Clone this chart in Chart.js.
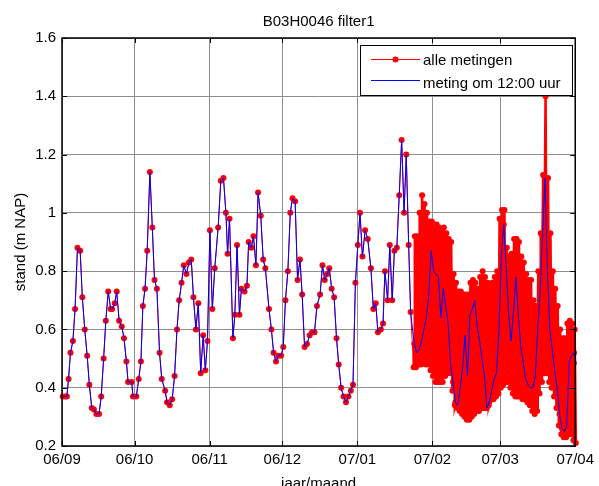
<!DOCTYPE html>
<html>
<head>
<meta charset="utf-8">
<title>B03H0046 filter1</title>
<script src="https://cdn.jsdelivr.net/npm/chart.js@4.4.1/dist/chart.umd.min.js"></script>
<style>
  html, body { margin: 0; padding: 0; background: #fff; }
  canvas { display: block; }
</style>
</head>
<body>
<canvas id="standChart" width="599" height="486"></canvas>
<script>

// dagnummer 0 = 1 september 2006
const xTickDays = [ 0, 30, 61, 91, 122, 153, 181, 212 ];
const xTickLabels = [ '06/09', '06/10', '06/11', '06/12', '07/01', '07/02', '07/03', '07/04' ];
const yTickValues = [ 0.2, 0.4, 0.6, 0.8, 1.0, 1.2, 1.4, 1.6 ];
const yTickLabels = [ '0.2', '0.4', '0.6', '0.8', '1', '1.2', '1.4', '1.6' ];

const titel = 'B03H0046 filter1';
const xTitel = 'jaar/maand';
const yTitel = 'stand (m NAP)';
const legendaTeksten = [ 'alle metingen', 'meting om 12:00 uur' ];

// losse metingen (ongeveer dagelijks) tot de logger erin ging
const handDagen = [
    0.3, 1.4, 2.0, 2.7, 3.5, 4.5, 5.4, 6.4, 7.5, 8.4,
    9.4, 10.4, 11.3, 12.3, 13.2, 14.2, 15.3, 16.2, 17.2, 18.1,
    19.1, 20.1, 20.7, 21.8, 22.6, 23.6, 24.7, 25.6, 26.6, 27.3,
    28.8, 29.3, 30.7, 31.7, 32.6, 33.4, 34.3, 35.2, 36.3, 37.3,
    38.2, 39.2, 40.3, 41.2, 42.6, 43.4, 44.5, 45.5, 46.5, 47.5,
    48.4, 49.4, 50.3, 51.4, 52.4, 53.4, 54.3, 55.3, 56.3, 57.3,
    58.3, 59.2, 60.1, 61.1, 62.1, 63.1, 64.5, 65.6, 66.7, 67.7,
    68.4, 69.2, 70.6, 71.4, 72.3, 73.3, 74.1, 75.4, 76.4, 77.1,
    78.2, 79.1, 80.1, 81.0, 82.1, 83.1, 84.0, 85.5, 86.5, 87.4,
    88.4, 89.3, 90.5, 91.4, 92.3, 93.3, 94.3, 95.2, 96.3, 97.3,
    98.3, 99.2, 100.2, 101.2, 102.3, 103.3, 104.3, 105.3, 106.6, 107.6,
    108.5, 109.5, 110.4, 111.4, 112.4, 113.4, 114.3, 115.3, 116.3, 117.3,
    118.3, 119.3, 120.2, 121.2, 122.2, 123.1, 124.1, 125.2, 126.3, 127.6,
    128.6, 129.6, 130.5, 131.7, 132.6, 133.4, 134.5, 135.4, 136.4, 137.3,
    138.3, 139.3, 140.3, 141.3, 142.2, 143.2, 144.0
];
const handStanden = [
    0.37, 0.37, 0.37, 0.43, 0.52, 0.56, 0.67, 0.88, 0.87, 0.71,
    0.60, 0.51, 0.41, 0.33, 0.325, 0.31, 0.31, 0.37, 0.50, 0.63,
    0.73, 0.67, 0.67, 0.69, 0.73, 0.63, 0.61, 0.57, 0.49, 0.42,
    0.42, 0.37, 0.37, 0.43, 0.49, 0.68, 0.74, 0.87, 1.14, 0.95,
    0.77, 0.74, 0.52, 0.43, 0.39, 0.35, 0.34, 0.36, 0.44, 0.60,
    0.70, 0.76, 0.82, 0.79, 0.83, 0.84, 0.71, 0.60, 0.69, 0.45,
    0.58, 0.46, 0.56, 0.94, 0.67, 0.81, 0.95, 1.11, 1.12, 1.00,
    0.86, 0.98, 0.57, 0.65, 0.89, 0.65, 0.74, 0.73, 0.75, 0.90,
    0.88, 0.92, 0.82, 1.07, 0.99, 0.84, 0.81, 0.67, 0.60, 0.52,
    0.49, 0.51, 0.51, 0.54, 0.70, 0.80, 1.00, 1.05, 1.04, 0.77,
    0.84, 0.72, 0.54, 0.55, 0.58, 0.59, 0.59, 0.68, 0.72, 0.82,
    0.77, 0.79, 0.81, 0.74, 0.71, 0.57, 0.48, 0.40, 0.37, 0.35,
    0.37, 0.39, 0.41, 0.76, 0.89, 1.00, 0.85, 0.94, 0.91, 0.81,
    0.67, 0.69, 0.59, 0.60, 0.62, 0.80, 0.70, 0.89, 0.70, 0.87,
    0.88, 1.06, 1.25, 1.00, 1.20, 0.89, 0.66
];

// loggerperiode: per dag laagste stand, stand om 12:00 en hoogste stand
const loggerStart = 145;
const dagMin = [
    0.47, 0.47, 0.48, 0.48, 0.49, 0.48, 0.48, 0.46, 0.44, 0.42,
    0.42, 0.42, 0.42, 0.44, 0.45, 0.45, 0.39, 0.34, 0.33, 0.32,
    0.31, 0.30, 0.29, 0.29, 0.30, 0.31, 0.32, 0.32, 0.33, 0.33,
    0.33, 0.34, 0.36, 0.36, 0.37, 0.38, 0.40, 0.41, 0.42, 0.42,
    0.40, 0.38, 0.37, 0.37, 0.37, 0.36, 0.36, 0.35, 0.34, 0.32,
    0.31, 0.32, 0.38, 0.42, 0.45, 0.45, 0.42, 0.40, 0.37, 0.33,
    0.27, 0.24, 0.23, 0.23, 0.24, 0.24, 0.22, 0.21
];
const dagMiddag = [
    0.55, 0.52, 0.53, 0.56, 0.60, 0.64, 0.72, 0.87, 0.80, 0.79,
    0.78, 0.64, 0.74, 0.68, 0.62, 0.48, 0.42, 0.35, 0.34, 0.40,
    0.47, 0.58, 0.44, 0.65, 0.67, 0.70, 0.61, 0.56, 0.50, 0.44,
    0.33, 0.35, 0.39, 0.43, 0.45, 0.60, 0.86, 0.96, 0.81, 0.65,
    0.56, 0.66, 0.78, 0.65, 0.54, 0.49, 0.43, 0.41, 0.40, 0.40,
    0.44, 0.60, 0.73, 0.92, 1.12, 0.80, 0.60, 0.53, 0.46, 0.40,
    0.31, 0.26, 0.25, 0.27, 0.49, 0.51, 0.52, 0.48
];
const dagMax = [
    0.92, 0.92, 1.00, 1.06, 1.03, 1.00, 0.97, 0.97, 0.96, 0.96,
    0.95, 0.94, 0.95, 0.93, 0.91, 0.90, 0.79, 0.76, 0.73, 0.73,
    0.72, 0.72, 0.72, 0.76, 0.77, 0.76, 0.74, 0.78, 0.80, 0.78,
    0.76, 0.75, 0.76, 0.78, 0.80, 0.98, 1.01, 1.01, 0.88, 0.85,
    0.86, 0.91, 0.91, 0.90, 0.85, 0.83, 0.79, 0.77, 0.77, 0.70,
    0.68, 0.80, 0.93, 1.13, 1.40, 1.12, 0.93, 0.80, 0.74, 0.68,
    0.60, 0.57, 0.57, 0.62, 0.63, 0.62, 0.60, 0.58
];

const lettertype = '"Liberation Sans", Arial, sans-serif';

function getHandPunten() {

    return handDagen.map( function( dag, i ) {
        return { x: dag, y: handStanden[ i ] };
    } );

}

function getAlleMetingen() {

    let punten = getHandPunten();

    dagMiddag.forEach( function( stand, i ) {
        let dag = loggerStart + i;
        punten.push( { x: dag + 0.25, y: dagMin[ i ] } );
        punten.push( { x: dag + 0.5, y: stand } );
        punten.push( { x: dag + 0.75, y: dagMax[ i ] } );
    } );

    return punten;

}

function getMiddagMetingen() {

    let punten = getHandPunten();

    dagMiddag.forEach( function( stand, i ) {
        punten.push( { x: loggerStart + i + 0.5, y: stand } );
    } );

    return punten;

}

// uurwaarden liggen zo dicht op elkaar dat het een dichte band wordt
function loggerLijndikte( segCtx ) {

    return segCtx.p0.parsed.x >= loggerStart ? 2.6 : 1;

}

// kader met tikjes naar binnen, titels en legenda (matlab-stijl)
const kaderPlugin = {
    id: 'kader',
    afterDatasetsDraw( chart ) {

        const ctx = chart.ctx;
        const a = chart.chartArea;
        const sx = chart.scales.x;
        const sy = chart.scales.y;

        ctx.save();
        ctx.strokeStyle = '#000';
        ctx.lineWidth = 1;
        ctx.beginPath();
        xTickDays.forEach( function( dag ) {
            let px = Math.round( sx.getPixelForValue( dag ) ) + 0.5;
            ctx.moveTo( px, a.bottom );
            ctx.lineTo( px, a.bottom - 5 );
            ctx.moveTo( px, a.top );
            ctx.lineTo( px, a.top + 5 );
        } );
        yTickValues.forEach( function( v ) {
            let py = Math.round( sy.getPixelForValue( v ) ) + 0.5;
            ctx.moveTo( a.left, py );
            ctx.lineTo( a.left + 5, py );
            ctx.moveTo( a.right, py );
            ctx.lineTo( a.right - 5, py );
        } );
        ctx.stroke();

        ctx.lineWidth = 1.5;
        ctx.strokeRect( a.left, a.top, a.right - a.left, a.bottom - a.top );

        ctx.fillStyle = '#000';
        ctx.font = '15px ' + lettertype;
        ctx.textAlign = 'center';
        ctx.textBaseline = 'alphabetic';
        let midden = ( a.left + a.right ) / 2;
        ctx.fillText( titel, midden, 26 );
        ctx.fillText( xTitel, midden, 488 );

        ctx.save();
        ctx.translate( 25, ( a.top + a.bottom ) / 2 );
        ctx.rotate( -Math.PI / 2 );
        ctx.fillText( yTitel, 0, 0 );
        ctx.restore();

        // legenda
        let lx = 360.5, ly = 45.5, lw = 212, lh = 50;
        ctx.fillStyle = '#fff';
        ctx.fillRect( lx, ly, lw, lh );
        ctx.lineWidth = 1;
        ctx.strokeStyle = '#000';
        ctx.strokeRect( lx, ly, lw, lh );

        ctx.strokeStyle = '#ff0000';
        ctx.beginPath();
        ctx.moveTo( 371, 59.5 );
        ctx.lineTo( 420, 59.5 );
        ctx.stroke();
        ctx.fillStyle = '#ff0000';
        ctx.beginPath();
        ctx.arc( 395.5, 59.5, 3, 0, 2 * Math.PI );
        ctx.fill();

        ctx.strokeStyle = '#0000ff';
        ctx.beginPath();
        ctx.moveTo( 371, 80.5 );
        ctx.lineTo( 420, 80.5 );
        ctx.stroke();

        ctx.fillStyle = '#000';
        ctx.textAlign = 'left';
        ctx.fillText( legendaTeksten[ 0 ], 423, 65 );
        ctx.fillText( legendaTeksten[ 1 ], 423, 87.5 );

        ctx.restore();

    }
};

function addStandChart() {

    let ctx = document.getElementById( 'standChart' ).getContext( '2d' );
    let standChart = new Chart( ctx, {
        type: 'line',
        data: {
            datasets: [ {
                label: legendaTeksten[ 0 ],
                data: getAlleMetingen(),
                borderColor: '#ff0000',
                borderWidth: 1,
                segment: { borderWidth: loggerLijndikte },
                pointRadius: 3,
                pointHoverRadius: 3,
                pointBorderWidth: 0,
                pointBackgroundColor: '#ff0000',
                tension: 0,
                clip: false,
                order: 2,
            }, {
                label: legendaTeksten[ 1 ],
                data: getMiddagMetingen(),
                borderColor: '#0000ff',
                borderWidth: 1,
                pointRadius: 0,
                tension: 0,
                clip: false,
                order: 1,
            } ],
        },
        options: {
            responsive: false,
            animation: false,
            events: [],
            layout: {
                padding: { top: 38, right: 19, bottom: 0, left: 0 },
            },
            plugins: {
                legend: { display: false },
                title: { display: false },
                tooltip: { enabled: false },
            },
            scales: {
                x: {
                    type: 'linear',
                    min: xTickDays[ 0 ],
                    max: xTickDays[ xTickDays.length - 1 ],
                    afterBuildTicks: function( scale ) {
                        scale.ticks = xTickDays.map( function( d ) { return { value: d }; } );
                    },
                    afterFit: function( scale ) { scale.height = 40; },
                    grid: { color: '#8f8f8f', lineWidth: 1, drawTicks: false },
                    border: { display: false },
                    ticks: {
                        autoSkip: false,
                        maxRotation: 0,
                        padding: 5,
                        color: '#000',
                        font: { family: lettertype, size: 15 },
                        callback: function( v, i ) { return xTickLabels[ i ]; },
                    },
                },
                y: {
                    type: 'linear',
                    min: yTickValues[ 0 ],
                    max: yTickValues[ yTickValues.length - 1 ],
                    afterBuildTicks: function( scale ) {
                        scale.ticks = yTickValues.map( function( v ) { return { value: v }; } );
                    },
                    afterFit: function( scale ) { scale.width = 62; },
                    grid: { color: '#8f8f8f', lineWidth: 1, drawTicks: false },
                    border: { display: false },
                    ticks: {
                        padding: 6,
                        color: '#000',
                        font: { family: lettertype, size: 15 },
                        callback: function( v, i ) { return yTickLabels[ i ]; },
                    },
                },
            },
        },
        plugins: [ kaderPlugin ],
    } );

}

addStandChart();

</script>
</body>
</html>
